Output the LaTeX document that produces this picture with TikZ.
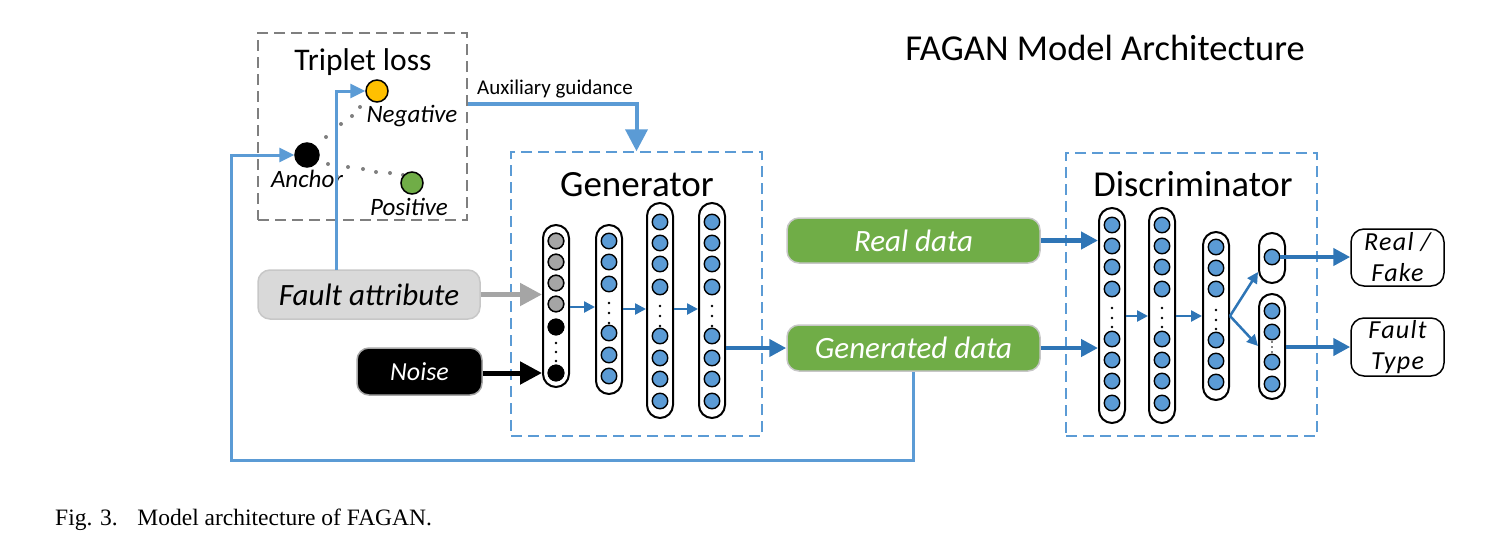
\documentclass[tikz,border=0pt]{standalone}
\usepackage{fontspec}
\setmainfont{Carlito}
\newfontfamily\capfont{Liberation Serif}
\usetikzlibrary{arrows.meta,calc}
\definecolor{nblue}{HTML}{5B9BD5}
\definecolor{dblue}{HTML}{2E75B6}
\definecolor{ggreen}{HTML}{70AD47}
\definecolor{gyellow}{HTML}{FFC000}
\definecolor{lgray}{HTML}{D9D9D9}
\definecolor{mgray}{HTML}{A5A5A5}
\definecolor{dgray}{HTML}{7F7F7F}
\newcommand{\fs}[1]{\fontsize{#1pt}{#1pt}\selectfont}
\newcommand{\nncol}[5]{%
  \node[colbox, minimum height={#4-#3}] (#1) at (#2,{(#3+#4)/2}) {};
  \foreach \yy [count=\k] in {#5} \node[neuron] (#1n\k) at (#2,\yy) {};
}
\newcommand{\nndots}[2]{\foreach \yy in {#2} \fill (#1,\yy) circle (1.4pt);}
\tikzset{
  colbox/.style={draw=black, line width=2pt, fill=white, rounded corners=13pt, minimum width=26pt, inner sep=0pt},
  neuron/.style={circle, draw=black, line width=1.4pt, fill=nblue, minimum size=15.5pt, inner sep=0pt},
  dashbox/.style={draw=nblue, dashed, line width=1.5pt, dash pattern=on 11pt off 6pt, inner sep=0pt},
  smallarr/.style={dblue, line width=2.5pt, -{Triangle[length=11pt,width=11pt]}},
  thickarr/.style={dblue, line width=4.5pt, -{Triangle[length=17pt,width=17pt]}},
  fbarr/.style={nblue, line width=3pt, -{Triangle[length=15pt,width=14pt]}},
  auxarr/.style={nblue, line width=4pt, -{Triangle[length=22pt,width=22pt]}},
  bigarr/.style={line width=5pt, -{Triangle[length=22pt,width=22pt]}},
  inbox/.style={rounded corners=12pt, line width=1.5pt, inner sep=0pt, font=\fs{31}\itshape},
  outbox/.style={draw=black, fill=white, rounded corners=13pt, line width=1.5pt, inner sep=0pt, minimum width=93pt, align=center, font=\fontsize{26pt}{31pt}\selectfont\itshape\addfontfeature{LetterSpace=5}},
  ball/.style={circle, draw=black, line width=1.5pt, inner sep=0pt, minimum size=22pt},
  lbl/.style={font=\fs{25}\itshape, inner sep=0pt}
}
\begin{document}
\begin{tikzpicture}[x=1pt,y=-1pt]
\useasboundingbox (0,0) rectangle (1499,539);
% title
\node[font=\fs{36.5}, inner sep=0pt] (title) at (1105,48) {FAGAN Model Architecture};
% triplet loss
\node[draw=dgray, dashed, dash pattern=on 11pt off 6pt, line width=1.5pt, minimum width=209pt, minimum height=187pt, inner sep=0pt] (trip) at (362.5,126.5) {};
\node[font=\fs{31.5}, inner sep=0pt] (triptxt) at (363,62) {Triplet loss};
\foreach \p in {(326,137),(341,124),(352,116),(360,107),(328,164),(348,167),(363,169),(376,172),(390,173),(403,175)}
  \fill[dgray] \p circle (2pt);
\node[ball, fill=black, minimum size=24pt] (anchor) at (307,155) {};
\node[ball, fill=gyellow] (neg) at (377,91) {};
\node[ball, fill=ggreen] (pos) at (412,183) {};
\node[lbl] (negtxt) at (412,116) {Negative};
\node[lbl] (anctxt) at (307,179) {Anchor};
\node[lbl] (postxt) at (409,207) {Positive};
% generator box
\node[dashbox, minimum width=251pt, minimum height=284pt] (genbox) at (636.5,294) {};
\node[font=\fs{37}, inner sep=0pt] (gentxt) at (637,185) {Generator};
% discriminator box
\node[dashbox, minimum width=251pt, minimum height=283pt] (disbox) at (1191.5,294.5) {};
\node[font=\fs{36.5}, inner sep=0pt] (distxt) at (1193,184) {Discriminator};
% aux guidance
\node[font=\fs{21}, inner sep=0pt] (auxtxt) at (555,89) {Auxiliary guidance};
\coordinate (auxs) at (468,104);
\draw[auxarr] (auxs) -| (genbox.north);
% input boxes
\node[inbox, fill=lgray, draw=black!22, minimum width=222pt, minimum height=49pt] (fault) at (369,294.5) {Fault attribute};
\node[inbox, fill=black, draw=black!35, text=white, minimum width=125pt, minimum height=47pt, font=\fs{26}\itshape] (noise) at (419.5,371.5) {Noise};
\node[inbox, fill=ggreen, draw=black!22, text=white, minimum width=253pt, minimum height=45pt] (real) at (913.5,240.5) {Real data};
\node[inbox, fill=ggreen, draw=black!22, text=white, minimum width=253pt, minimum height=46pt] (gen) at (913.5,348) {Generated data};
% generator columns
\nncol{g1}{556}{225}{387}{241,262,283,304,327,373}
\foreach \k in {1,2,3,4} \node[neuron, fill=mgray] (g1m\k) at (g1n\k) {};
\foreach \k in {5,6} \node[neuron, fill=black] (g1b\k) at (g1n\k) {};
\nndots{556}{343,352,361}
\nncol{g2}{609}{225}{394}{241,262,284,333,355,376}
\nndots{609}{303,313,323}
\nncol{g3}{660}{203}{418}{222,243,264,287,336,358,379,401}
\nndots{660}{306,316,326}
\nncol{g4}{712}{203}{418}{222,243,264,287,336,358,379,401}
\nndots{712}{306,316,326}
\draw[smallarr] (g1.east |- 0,307) -- (g2.west |- 0,307);
\draw[smallarr] (g2.east |- 0,309) -- (g3.west |- 0,309);
\draw[smallarr] (g3.east |- 0,309) -- (g4.west |- 0,309);
% discriminator columns
\nncol{d1}{1112}{208}{423}{225,246,267,289,339,360,381,403}
\nndots{1112}{308,318,327}
\nncol{d2}{1162}{208}{423}{225,246,267,289,339,360,381,403}
\nndots{1162}{308,318,327}
\nncol{d3}{1216}{232}{400}{247,268,289,340,361,382}
\nndots{1216}{310,320,329}
\nncol{d4}{1272}{233}{283}{257}
\nncol{d5}{1272}{294}{399}{311,332,362,384}
\foreach \yy in {342,347,352} \fill (1272,\yy) circle (0.8pt);
\draw[smallarr] (d1.east |- 0,316) -- (d2.west |- 0,316);
\draw[smallarr] (d2.east |- 0,316) -- (d3.west |- 0,316);
\coordinate (fork) at (1230,316);
\draw[smallarr] (fork) -- (1258,272);
\draw[smallarr] (fork) -- (1258,346);
% output boxes
\node[outbox, minimum height=57pt] (rf) at (1397.5,257.5) {Real /\\Fake};
\node[outbox, minimum height=58pt] (ft) at (1397.5,347) {Fault\\Type};
\draw[thickarr] (d4n1.east) -- (d4n1.east -| rf.west);
\draw[thickarr] (d5.east |- ft.west) -- (ft.west);
% main arrows
\draw[bigarr, mgray] (fault.east) -- (fault.east -| g1.west);
\draw[bigarr, black] (noise.east |- g1n6) -- (g1.west |- g1n6);
\draw[thickarr] (g4.east |- gen.west) -- (gen.west);
\draw[thickarr] (real.east) -- (real.east -| d1.west);
\draw[thickarr] (gen.east) -- (gen.east -| d1.west);
% feedback lines
\coordinate (fbc) at (231,460);
\draw[fbarr] (gen.south) |- (fbc) |- (anchor.west);
\coordinate (fup) at (336,270);
\draw[fbarr] (fup) |- (neg.west);
% caption
\node[font=\capfont\fs{23.5}, anchor=base west, inner sep=0pt] (cap) at (55,525) {Fig. 3.\hspace{0.5em} Model architecture of FAGAN.};
\end{tikzpicture}
\end{document}
